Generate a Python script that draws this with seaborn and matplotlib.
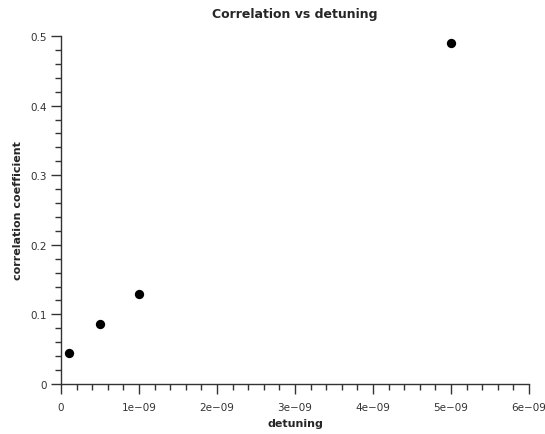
import matplotlib
matplotlib.use("Agg")
import matplotlib.pyplot as plt
import seaborn as sns
import pandas as pd
from matplotlib.ticker import MultipleLocator

detuning = [1e-10, 5e-10, 1e-9, 5e-9]
correlation = [0.0445, 0.086, 0.129, 0.490]
x_ticks = [0, 1e-9, 2e-9, 3e-9, 4e-9, 5e-9, 6e-9]
x_tick_labels = ["0", "1e\u221209", "2e\u221209", "3e\u221209", "4e\u221209", "5e\u221209", "6e\u221209"]
y_ticks = [0, 0.1, 0.2, 0.3, 0.4, 0.5]
y_tick_labels = ["0", "0.1", "0.2", "0.3", "0.4", "0.5"]

df = pd.DataFrame({"detuning": detuning, "correlation coefficient": correlation})

sns.set_theme(style="ticks")
plt.rcParams["font.family"] = ["DejaVu Sans"]

fig = plt.figure(figsize=(5.45, 4.35), dpi=100)
ax = fig.add_axes([61/545, 50/435, 468/545, 348/435])
sns.scatterplot(data=df, x="detuning", y="correlation coefficient", ax=ax,
                color="black", s=45, edgecolor="black", linewidth=0)

ax.set_xlim(0, 6e-9)
ax.set_ylim(0, 0.5)
ax.set_xticks(x_ticks)
ax.set_xticklabels(x_tick_labels, fontsize=7.5, color="#333333")
ax.set_yticks(y_ticks)
ax.set_yticklabels(y_tick_labels, fontsize=7.5, color="#333333")
ax.xaxis.set_minor_locator(MultipleLocator(2e-10))
ax.yaxis.set_minor_locator(MultipleLocator(0.02))
ax.tick_params(which="major", length=7, width=1, color="#333333")
ax.tick_params(which="minor", length=4, width=1, color="#333333")
ax.tick_params(axis="x", which="major", pad=6)
for s in ["top", "right"]:
    ax.spines[s].set_visible(False)
for s in ["left", "bottom"]:
    ax.spines[s].set_color("#333333")
    ax.spines[s].set_linewidth(1)

ax.set_xlabel("detuning", fontsize=8, fontweight="bold", labelpad=4)
ax.set_ylabel("correlation coefficient", fontsize=8, fontweight="bold", labelpad=5)
ax.set_title("Correlation vs detuning", fontsize=9, fontweight="bold", pad=14)

fig.savefig("out.png", dpi=100)
